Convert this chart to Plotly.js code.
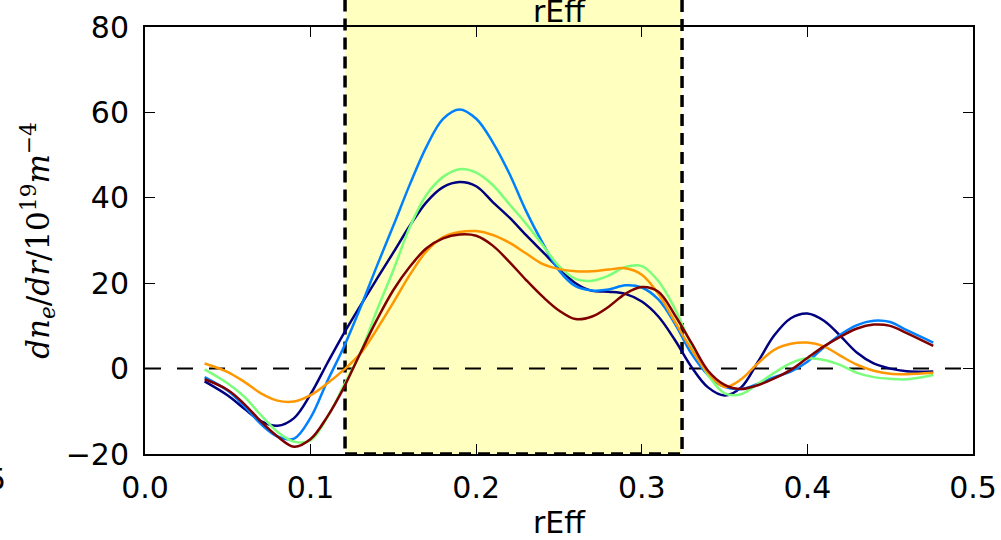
<!DOCTYPE html>
<html><head><meta charset="utf-8">
<script src="https://cdn.plot.ly/plotly-3.0.1.min.js"></script>
<style>html,body{margin:0;padding:0;background:#fff;}#chart{width:1001px;height:540px;}</style>
</head><body><div id="chart"></div>
<script>
// x positions (rEff)
const rEff = [0.036,0.05,0.06,0.07,0.08,0.09,0.10,0.11,0.12,0.13,0.14,0.15,0.16,0.17,0.18,0.19,0.20,0.21,0.22,0.23,0.24,0.25,0.26,0.27,0.28,0.29,0.30,0.31,0.32,0.33,0.34,0.35,0.36,0.37,0.38,0.39,0.40,0.41,0.42,0.43,0.44,0.45,0.46,0.476];
// dn_e/dr profiles
const profileNavy = [-3.0,-6.3,-9.4,-12.3,-13.4,-11.6,-6.0,1.2,8.2,14.7,21.0,27.2,33.5,39.0,42.5,43.7,42.7,39.0,35.4,31.3,27.4,23.5,20.0,18.2,18.0,17.5,15.7,12.2,6.7,0.4,-4.4,-6.3,-4.4,1.5,7.8,11.8,12.9,11.2,7.6,3.7,1.2,0.0,-0.6,-0.7];
const profileBlue = [-2.0,-5.2,-8.8,-13.0,-15.9,-16.4,-11.5,-3.0,5.0,14.2,24.0,33.5,43.2,52.0,58.5,60.7,58.5,53.0,45.7,37.0,29.5,23.0,19.3,18.3,18.5,19.5,19.0,16.2,10.5,3.5,-1.5,-4.3,-4.8,-3.6,-2.0,-0.7,1.6,5.0,8.0,10.2,11.2,10.9,9.0,6.1];
const profileGreen = [-0.2,-3.5,-6.6,-10.9,-14.8,-17.1,-16.8,-11.5,-4.0,3.6,13.6,23.1,33.2,40.7,44.9,46.7,45.9,43.0,38.5,34.0,29.0,24.0,21.0,20.6,21.8,23.8,24.0,20.5,14.0,5.5,-1.5,-5.8,-6.0,-3.6,-1.0,1.3,2.4,2.0,0.8,-1.0,-2.0,-2.4,-2.5,-1.5];
const profileOrange = [1.2,-0.8,-3.1,-5.8,-7.5,-7.7,-6.2,-3.5,-0.3,3.5,9.2,15.5,22.0,27.5,30.8,32.0,32.2,31.3,29.5,27.0,24.5,23.3,22.8,22.8,23.2,23.5,22.0,17.5,11.0,4.5,-1.0,-4.3,-2.5,1.2,4.4,5.8,6.1,5.2,3.0,0.9,-0.5,-1.2,-1.3,-1.0];
const profileMaroon = [-2.5,-5.0,-8.3,-12.4,-15.9,-18.3,-16.5,-11.3,-4.5,3.6,11.4,18.4,23.9,28.2,30.5,31.4,31.1,28.8,25.0,20.8,16.9,13.6,11.6,12.2,14.5,17.5,19.1,18.0,12.5,6.0,-0.5,-3.8,-4.8,-3.9,-2.3,-0.3,2.5,5.2,7.5,9.4,10.3,10.0,8.3,5.3];
const seriesList = [profileNavy, profileBlue, profileGreen, profileOrange, profileMaroon];
const seriesColors = ['#000080','#0080ff','#7bff7b','#ff9700','#800000'];
// shaded band
const bandStart = 0.1208;
const bandEnd = 0.3243;
// ticks
const xTicks = [0,0.1,0.2,0.3,0.4,0.5];
const xTickText = ['0.0','0.1','0.2','0.3','0.4','0.5'];
const yTicks = [-20,0,20,40,60,80];
const yTickText = ['\u221220','0','20','40','60','80'];

const traces = seriesList.map((ys, i) => ({
  type: 'scatter', mode: 'lines', x: rEff, y: ys,
  line: {color: seriesColors[i], width: 2.5, shape: 'spline', smoothing: 1},
  showlegend: false, hoverinfo: 'skip'
}));

const tickFont = {family: 'DejaVu Sans', size: 30, color: '#000'};
const layout = {
  width: 1001, height: 540,
  margin: {l: 145, r: 28, t: 27, b: 86, pad: 0},
  paper_bgcolor: '#fff', plot_bgcolor: 'rgba(0,0,0,0)',
  showlegend: false,
  xaxis: {
    range: [0, 0.5], tickvals: xTicks, ticktext: xTickText,
    ticks: 'inside', ticklen: 10, tickwidth: 1, tickcolor: '#000',
    showline: true, linecolor: '#000', linewidth: 2, mirror: 'allticks',
    showgrid: false, zeroline: false, tickfont: tickFont, ticklabelstandoff: 6,
    title: {text: 'rEff', font: tickFont, standoff: 16}
  },
  yaxis: {
    range: [-20, 80], tickvals: yTicks, ticktext: yTickText,
    ticks: 'inside', ticklen: 10, tickwidth: 1, tickcolor: '#000',
    showline: true, linecolor: '#000', linewidth: 2, mirror: 'allticks',
    showgrid: false, zeroline: false, tickfont: tickFont, ticklabelstandoff: 8,
    title: {text: '<i>dn</i><sub><i>e</i></sub>/<i>dr</i>/10<sup>19</sup><i>m</i><sup>\u22124</sup>',
            font: {family: 'DejaVu Serif', size: 31, color: '#000'}, standoff: 7}
  },
  shapes: [
    {type: 'rect', xref: 'x', yref: 'paper', x0: bandStart, x1: bandEnd, y0: 0, y1: 1.1,
     fillcolor: '#ffffbf', line: {color: '#000', width: 3.5, dash: '12px,7px'}, layer: 'below'},
    {type: 'line', xref: 'paper', yref: 'y', x0: 0, x1: 1, y0: 0, y1: 0,
     line: {color: '#000', width: 2, dash: '16px,16px'}, layer: 'below'}
  ],
  annotations: [
    {text: 'rEff', xref: 'paper', yref: 'paper', x: 0.5, y: 1, xanchor: 'center', yanchor: 'bottom',
     yshift: -4, showarrow: false, font: tickFont},
    {text: '5', xref: 'paper', yref: 'paper', x: -0.1655, y: -0.06, xanchor: 'right', yanchor: 'middle',
     showarrow: false, font: tickFont}
  ]
};
Plotly.newPlot('chart', traces, layout, {staticPlot: true, displayModeBar: false});
</script></body></html>
